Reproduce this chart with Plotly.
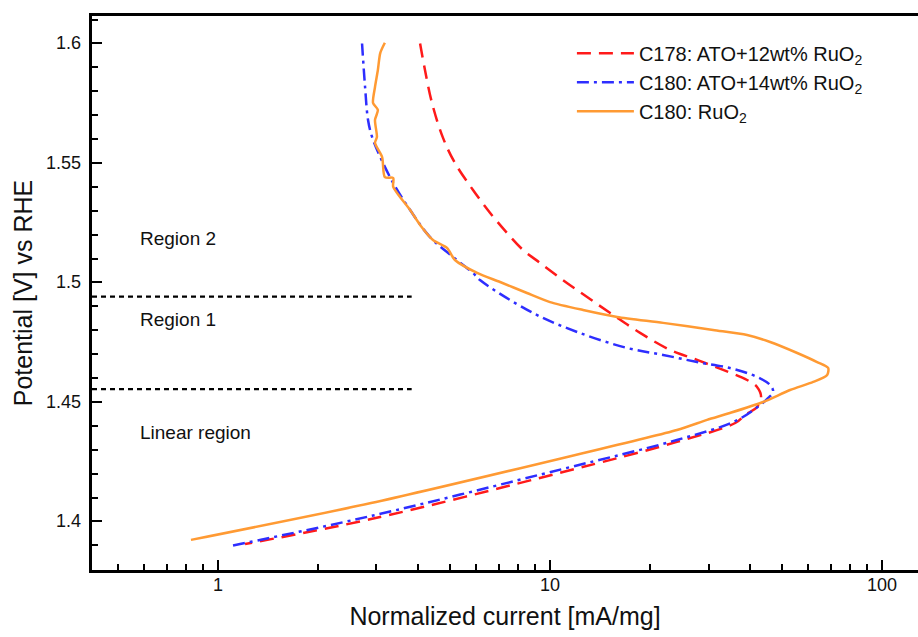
import math
import plotly.graph_objects as go

# ---- data ----
red_x = [4.06, 4.20, 4.41, 4.76, 5.17, 5.86, 6.60, 7.42, 8.29, 9.33, 10.94, 12.93, 15.48, 18.67,
         22.98, 27.72, 33.20, 39.2, 42.0, 43.2, 42.0, 38.7, 36.1, 24.1, 10.94, 2.89, 1.206]
red_v = [1.600, 1.5889, 1.5751, 1.5605, 1.550, 1.5387, 1.5291, 1.5207, 1.5136, 1.5082, 1.501, 1.4939,
         1.4864, 1.4789, 1.4718, 1.4676, 1.4634, 1.4592, 1.4563, 1.4521, 1.4479, 1.4446, 1.4412,
         1.4333, 1.4207, 1.401, 1.3906]

blue_x = [2.715, 2.772, 2.83, 2.91, 3.08, 3.37, 3.79, 4.35, 5.10, 5.86, 6.15, 8.89, 12.06, 17.06,
          21.9, 27.72, 34.8, 42.0, 46.0, 46.96, 45.4, 42.9, 36.1, 24.1, 10.94, 2.89, 1.087]
blue_v = [1.600, 1.5819, 1.568, 1.5609, 1.5525, 1.5416, 1.5303, 1.519, 1.5107, 1.504, 1.501, 1.4872,
          1.4793, 1.4726, 1.4697, 1.4667, 1.4642, 1.4605, 1.4571, 1.4542, 1.4517, 1.4487, 1.442,
          1.4341, 1.422, 1.4023, 1.3897]

orange_x = [3.18, 3.08, 3.03, 2.97, 2.93, 3.03, 2.97, 3.01, 2.97, 3.12, 3.18, 3.37, 3.37, 3.79, 4.06,
            4.44, 4.90, 5.17, 6.03, 7.07, 8.52, 10.0, 12.57, 15.92, 21.9, 30.97, 39.2, 46.0, 55.5,
            63.7, 68.8, 68.3, 62.0, 52.8, 43.8, 34.8, 29.7, 24.1, 10.94, 2.89, 0.829]
orange_v = [1.6003, 1.596, 1.5889, 1.5818, 1.5751, 1.5722, 1.568, 1.5609, 1.5584, 1.5525, 1.5441,
            1.5437, 1.540, 1.5303, 1.5241, 1.5178, 1.5144, 1.5094, 1.504, 1.5002, 1.4956, 1.4918,
            1.4885, 1.4856, 1.4831, 1.4801, 1.478, 1.4751, 1.4705, 1.4667, 1.4642, 1.4613, 1.4584,
            1.455, 1.450, 1.4454, 1.4425, 1.4383, 1.4266, 1.4077, 1.3923]

series_names = ["C178: ATO+12wt% RuO<sub>2</sub>",
                "C180: ATO+14wt% RuO<sub>2</sub>",
                "C180: RuO<sub>2</sub>"]

region_bounds = [1.4941, 1.4554]     # potentials of the dotted separators
region_line_end = 3.83               # current where separators stop
region_labels = ["Region 2", "Region 1", "Linear region"]
region_label_v = [1.5182, 1.4847, 1.4374]
region_label_x = 0.574

x_ticks = [1, 10, 100]
x_tick_text = ["1", "10", "100"]
x_minor = [0.5, 0.6, 0.7, 0.8, 0.9, 2, 3, 4, 5, 6, 7, 8, 9, 20, 30, 40, 50, 60, 70, 80, 90]
y_ticks = [1.4, 1.45, 1.5, 1.55, 1.6]
y_tick_text = ["1.4", "1.45", "1.5", "1.55", "1.6"]

x_range_log = [-0.3795, 2.108]
y_range = [1.3797, 1.6115]

FONT = "Liberation Sans, Arial, Helvetica, sans-serif"
TXT = "#111111"

fig = go.Figure()

fig.add_trace(go.Scatter(x=red_x, y=red_v, mode="lines", name=series_names[0],
                         line=dict(color="#FF1A1A", width=2.5, dash="14px,8px",
                                   shape="spline", smoothing=1.0)))
fig.add_trace(go.Scatter(x=blue_x, y=blue_v, mode="lines", name=series_names[1],
                         line=dict(color="#2E2EFF", width=2.5, dash="12px,5px,3px,5px",
                                   shape="spline", smoothing=1.0)))
fig.add_trace(go.Scatter(x=orange_x, y=orange_v, mode="lines", name=series_names[2],
                         line=dict(color="#FF9A33", width=2.5,
                                   shape="spline", smoothing=0.7)))

x_left = 10 ** x_range_log[0]
for v in region_bounds:
    fig.add_trace(go.Scatter(x=[x_left, region_line_end], y=[v, v], mode="lines",
                             showlegend=False, hoverinfo="skip",
                             line=dict(color="black", width=2.2, dash="5px,4px")))

for lbl, v in zip(region_labels, region_label_v):
    fig.add_annotation(x=math.log10(region_label_x), y=v, text=lbl, showarrow=False,
                       xanchor="left", yanchor="middle",
                       font=dict(family=FONT, size=19, color=TXT))

# tick labels placed at the axis tick values
for t, s in zip(x_ticks, x_tick_text):
    fig.add_annotation(x=math.log10(t), xref="x", y=0, yref="paper", text=s,
                       showarrow=False, xanchor="center", yanchor="top", yshift=-3,
                       font=dict(family=FONT, size=18, color=TXT))
for t, s in zip(y_ticks, y_tick_text):
    fig.add_annotation(x=0, xref="paper", y=t, yref="y", text=s,
                       showarrow=False, xanchor="right", yanchor="middle", xshift=-9,
                       font=dict(family=FONT, size=18, color=TXT))

fig.update_xaxes(type="log", range=x_range_log, tickvals=x_ticks,
                 showticklabels=False,
                 ticks="inside", ticklen=10, tickwidth=2, tickcolor="black",
                 showline=True, linewidth=2.5, linecolor="black", mirror=True,
                 showgrid=False, zeroline=False,
                 minor=dict(tickvals=x_minor, ticks="inside", ticklen=6, tickwidth=1.5,
                            tickcolor="black", showgrid=False),
                 title=dict(text="Normalized current [mA/mg]", standoff=36,
                            font=dict(family=FONT, size=25, color=TXT)))

fig.update_yaxes(range=y_range, tickvals=y_ticks,
                 showticklabels=False,
                 ticks="inside", ticklen=10, tickwidth=2, tickcolor="black",
                 showline=True, linewidth=2.5, linecolor="black", mirror=False,
                 showgrid=False, zeroline=False,
                 minor=dict(dtick=0.01, tick0=1.4, ticks="inside", ticklen=6, tickwidth=1.5,
                            tickcolor="black", showgrid=False),
                 title=dict(text="Potential [V] vs RHE", standoff=50,
                            font=dict(family=FONT, size=25, color=TXT)))

fig.update_layout(width=918, height=637,
                  margin=dict(l=92, r=0, t=16, b=67, autoexpand=False),
                  paper_bgcolor="white", plot_bgcolor="white",
                  font=dict(family=FONT, color=TXT),
                  legend=dict(x=0.581, y=0.968, xanchor="left", yanchor="top",
                              bgcolor="rgba(0,0,0,0)", itemwidth=57,
                              font=dict(family=FONT, size=20, color=TXT),
                              tracegroupgap=0))

fig.write_html("out.html")
